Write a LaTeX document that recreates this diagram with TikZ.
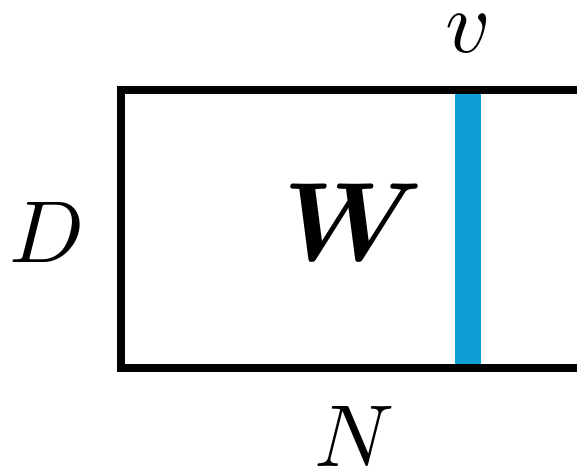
\documentclass[tikz,border=0pt]{standalone}
\usepackage{bm}
\definecolor{barblue}{RGB}{17,158,214}
\begin{document}
\begin{tikzpicture}[x=0.02cm,y=-0.02cm]
		\useasboundingbox (0,0) rectangle (577,475);
		\tikzset{lbl/.style={inner sep=0pt,scale=5}}
		
		% corners of the matrix (right side runs off the page)
		\coordinate (TL) at (121,90);
		\coordinate (BL) at (121,368);
		\coordinate (TR) at (577,90);
		\coordinate (BR) at (577,368);
		
		% column v
		\fill[barblue] (455,94) rectangle (481,364);
		
		% frame
		\draw[line width=0.16cm] (TR) -- (TL) -- (BL) -- (BR);
		
		% labels
		\node[lbl] (v) at (468,34) {$v$};
		\node[lbl] (D) at (47,232) {$D$};
		\node[lbl] (N) at (355,436) {$N$};
		\node[lbl,scale=1.27] (W) at (353,222) {$\bm{W}$};
	\end{tikzpicture}
\end{document}
